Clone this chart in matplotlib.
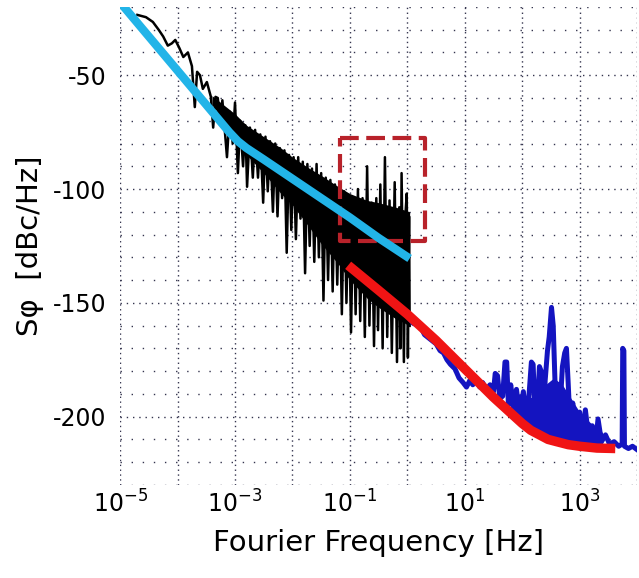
import numpy as np
import matplotlib
matplotlib.use("Agg")
import matplotlib.pyplot as plt
from matplotlib.ticker import FixedLocator, NullFormatter

plt.rcParams['font.family'] = ['DejaVu Sans']
plt.rcParams['mathtext.fontset'] = 'dejavusans'
plt.rcParams['axes.unicode_minus'] = False

# ---- data (log10 frequency, dB) ----
# measured phase noise, low frequency part (black), trace with spikes
blk_logf = [-4.70, -4.55, -4.43, -4.33, -4.25, -4.17, -4.10, -4.04, -3.97, -3.90,
            -3.82, -3.75, -3.70, -3.66, -3.61, -3.56, -3.49, -3.42, -3.38, -3.34,
            -3.30, -3.26, -3.22, -3.14, -3.09, -3.04, -3.00, -2.95, -2.91, -2.86,
            -2.82, -2.79, -2.74, -2.69, -2.65, -2.60, -2.56, -2.51, -2.47, -2.43,
            -2.39, -2.34, -2.30, -2.26, -2.22, -2.18, -2.14, -2.10, -2.06, -2.02,
            -1.98, -1.94, -1.90, -1.86, -1.82, -1.78, -1.74, -1.70, -1.66, -1.62,
            -1.58, -1.54, -1.50, -1.46, -1.42, -1.38, -1.34, -1.30, -1.26, -1.22,
            -1.18, -1.14, -1.10, -1.06, -1.02, -0.98, -0.94, -0.90, -0.86, -0.82,
            -0.78, -0.74, -0.70, -0.66, -0.62, -0.58, -0.54, -0.51, -0.47, -0.43,
            -0.39, -0.35, -0.31, -0.27, -0.22, -0.18, -0.14, -0.12, -0.10, -0.06,
            -0.03, -0.01, 0.01, 0.03, 0.04]
blk_db = [-23.5, -24.5, -26.6, -30.0, -33.0, -37.0, -36.0, -34.5, -38.0, -42.0,
          -40.0, -46.0, -64.0, -48.5, -50.0, -56.0, -53.0, -59.5, -73.0, -59.5,
          -60.0, -70.0, -61.0, -86.0, -66.0, -80.0, -62.0, -93.0, -70.0, -90.0,
          -72.0, -99.0, -73.0, -95.0, -74.0, -95.0, -76.0, -106.0, -77.0, -101.0,
          -79.0, -110.0, -80.0, -112.0, -82.0, -104.0, -83.0, -128.0, -85.0, -118.0,
          -86.0, -122.0, -86.0, -113.0, -88.0, -137.0, -89.0, -125.0, -91.0, -132.0,
          -89.0, -130.0, -93.0, -149.0, -95.0, -140.0, -96.0, -145.0, -98.0, -142.0,
          -100.0, -155.0, -101.0, -150.0, -103.0, -163.0, -104.0, -155.0, -100.0, -158.0,
          -104.0, -165.0, -90.0, -160.0, -106.0, -169.0, -104.0, -162.0, -98.0, -170.0,
          -86.0, -165.0, -105.0, -172.0, -97.0, -176.0, -108.0, -170.0, -93.0, -176.0,
          -110.0, -102.0, -174.0, -112.0, -160.0]

# dense (solid) part of the black trace: upper and lower edge
core_logf = [-3.40, -3.20, -3.00, -2.80, -2.50, -2.20, -2.00, -1.70, -1.50, -1.20, -1.00, -0.70, -0.50, -0.20, 0.04]
core_hi = [-59, -63, -67, -72, -77, -82, -86, -91, -94, -99, -102, -105, -106, -108, -110]
core_lo = [-63, -70, -77, -85, -93, -102, -107, -117, -124, -133, -140, -148, -152, -157, -160]

# measured phase noise, high frequency part (blue)
blu_logf = [0.04, 0.10, 0.22, 0.30, 0.40, 0.50, 0.57, 0.63, 0.69, 0.75,
            0.83, 0.90, 0.97, 1.03, 1.09, 1.14, 1.20, 1.26, 1.31, 1.38,
            1.44, 1.50, 1.53, 1.57, 1.61, 1.66, 1.70, 1.73, 1.76, 1.80,
            1.85, 1.90, 1.96, 2.02, 2.08, 2.12, 2.16, 2.19, 2.23, 2.27,
            2.30, 2.33, 2.36, 2.40, 2.44, 2.47, 2.51, 2.54, 2.57, 2.60,
            2.63, 2.66, 2.70, 2.74, 2.77, 2.80, 2.84, 2.88, 2.93, 3.00,
            3.05, 3.10, 3.16, 3.22, 3.28, 3.32, 3.38, 3.45, 3.52, 3.60,
            3.68, 3.74, 3.75, 3.77, 3.78, 3.85, 3.92, 4.00]
blu_db = [-157, -159, -160, -164, -166, -168, -171, -172, -175, -177,
          -179, -183, -185, -187, -184, -186, -183, -187, -185, -188,
          -186, -189, -181, -182, -192, -191, -176, -176, -195, -186,
          -196, -188, -200, -189, -203, -190, -176, -177, -204, -192,
          -178, -180, -205, -184, -171, -165, -152, -160, -184, -206,
          -186, -196, -178, -172, -170, -185, -207, -194, -208, -198,
          -209, -197, -210, -204, -211, -201, -211, -208, -212, -211,
          -213, -212, -170, -171, -213, -214, -213, -214.5]

# dense part of the blue trace between the spikes (upper edge), lower edge follows the floor
bcore_logf = [1.80, 2.00, 2.20, 2.40, 2.55, 2.70, 2.85, 3.00, 3.20, 3.40]
bcore_hi = [-190, -190, -192, -186, -183, -186, -192, -198, -203, -207]
bcore_lo = [-198, -204, -207, -209, -210, -211, -212, -212.5, -213, -213.5]

# model fit, low frequency (cyan)
cyan_logf = [-5.0, -4.5, -4.0, -3.5, -3.25, -3.1, -2.95, -2.8, -2.5, -2.0, -1.5, -1.0, -0.5, 0.04]
cyan_db = [-18, -33, -48, -63, -70.5, -75, -79, -82, -87, -95.5, -104, -112.5, -121.5, -130.5]

# model fit, high frequency (red)
red_logf = [-1.03, -0.5, 0.0, 0.5, 1.0, 1.5, 2.0, 2.15, 2.3, 2.45, 2.6, 2.8, 3.0, 3.3, 3.62]
red_db = [-133.5, -144.5, -155, -166.5, -179, -191.5, -203, -206, -208, -210, -211, -212.3, -213, -213.8, -214]

# zoom box corners
box_logf = [-1.17, 0.30]
box_db = [-123, -77.5]

fig = plt.figure(figsize=(6.39, 5.78), dpi=100)
ax = fig.add_axes([0.188, 0.161, 0.809, 0.827])

ax.fill_between(10**np.array(core_logf), core_lo, core_hi, color='black', lw=0, zorder=3)
ax.semilogx(10**np.array(blk_logf), blk_db, color='black', lw=1.8, zorder=3)
ax.fill_between(10**np.array(bcore_logf), bcore_lo, bcore_hi, color='#1414c0', lw=0, zorder=3)
ax.semilogx(10**np.array(blu_logf), blu_db, color='#1414c0', lw=3.6, zorder=3)
ax.semilogx(10**np.array(red_logf), red_db, color='#f01414', lw=6.8,
            solid_capstyle='butt', zorder=4)

bx = 10**np.array(box_logf)
ax.plot([bx[0], bx[1], bx[1], bx[0], bx[0]],
        [box_db[1], box_db[1], box_db[0], box_db[0], box_db[1]],
        color='#b8222a', lw=3.0, dashes=(4.5, 1.8), zorder=5)

ax.semilogx(10**np.array(cyan_logf), cyan_db, color='#22b4e8', lw=6.0,
            solid_capstyle='butt', zorder=6)

ax.set_xlim(1e-5, 1e4)
ax.set_ylim(-230, -20)

xt = [10.0**k for k in range(-5, 5)]
ax.xaxis.set_major_locator(FixedLocator(xt))
ax.set_xticklabels(['$10^{%d}$' % k if k % 2 else '' for k in range(-5, 5)])
ax.xaxis.set_minor_formatter(NullFormatter())
ax.xaxis.set_minor_locator(FixedLocator([]))
ax.yaxis.set_major_locator(FixedLocator([-50, -100, -150, -200]))
ax.yaxis.set_minor_locator(FixedLocator(list(range(-230, -10, 10))))

ax.grid(True, which='major', axis='x', color='#34344e', lw=1.0, ls=(0, (1, 2.5)))
ax.grid(True, which='major', axis='y', color='#34344e', lw=1.0, ls=(0, (1, 3.5)))
ax.grid(True, which='minor', axis='y', color='#34344e', lw=1.0, ls=(0, (1, 7)))
for s in ax.spines.values():
    s.set_visible(False)

ax.tick_params(axis='both', which='both', length=0, labelsize=17)
ax.tick_params(axis='x', pad=4)
ax.tick_params(axis='y', pad=10)

ax.set_xlabel('Fourier Frequency [Hz]', fontsize=21, labelpad=8)
ax.set_ylabel('S\u03c6  [dBc/Hz]', fontsize=21, labelpad=6)

fig.savefig('out.png', dpi=100)
